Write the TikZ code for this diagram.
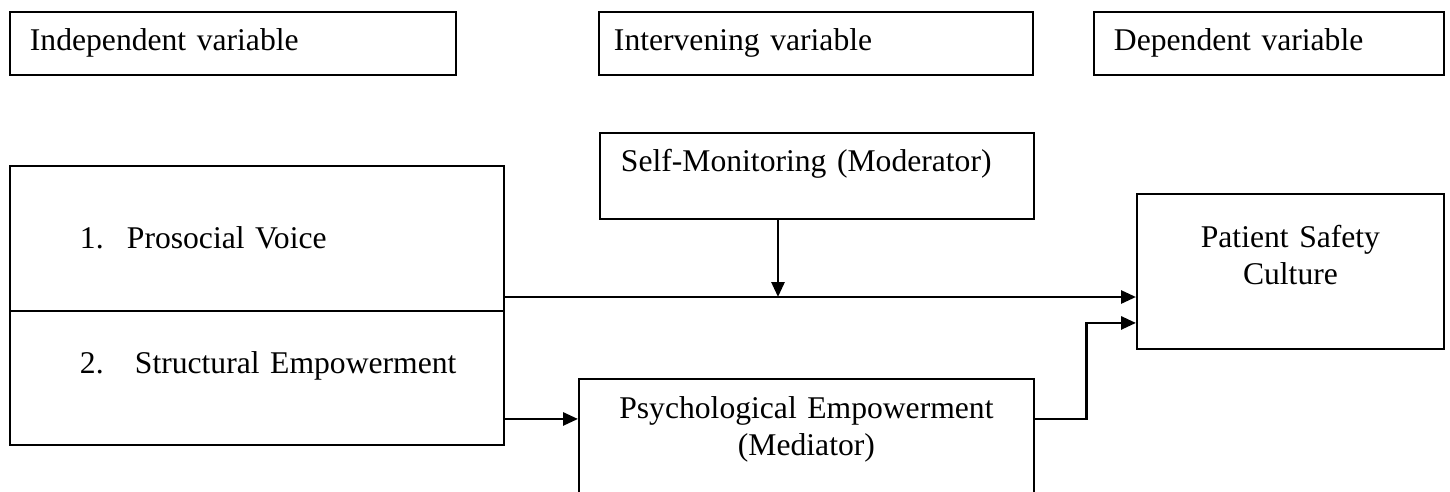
\documentclass[tikz,border=0pt]{standalone}
\usepackage{fontspec}
\setmainfont{Liberation Serif}
\usetikzlibrary{arrows.meta}
\tikzset{
  varbox/.style={draw,line width=1.1pt,anchor=north west,inner ysep=0pt,
                 font=\fontsize{18}{20.7}\selectfont},
  hdr/.style={varbox,align=left,text height=0.78cm,text depth=0.48cm},
  arr/.style={-{Triangle[length=0.3cm,width=0.26cm]},line width=1.6pt},
}

\begin{document}
\begin{tikzpicture}[x=0.02cm,y=-0.02cm]
  \useasboundingbox (0,0) rectangle (1450,491);
  % column headings
  \node[hdr,inner xsep=0.4cm,text width=8.12cm] (hIndep) at (9,11) {Independent variable};
  \node[hdr,inner xsep=0.3cm,text width=8.08cm] (hInterv) at (598,11) {Intervening variable};
  \node[hdr,inner xsep=0.4cm,text width=6.2cm] (hDep) at (1093,11) {Dependent variable};
  % independent variables
  \node[varbox,align=left,inner xsep=0.2cm,text width=9.48cm,text height=1.66cm,text depth=1.24cm]
    (prosocial) at (9,165) {\hspace*{1.2cm}\makebox[0.94cm][l]{1.}Prosocial Voice};
  \node[varbox,align=left,inner xsep=0.2cm,text width=9.48cm,text height=1.26cm,text depth=1.42cm]
    (structural) at (9,310) {\hspace*{1.2cm}\makebox[1.1cm][l]{2.}Structural Empowerment};
  % moderator, mediator, outcome
  \node[varbox,align=left,inner xsep=0.42cm,text width=7.84cm,text height=0.78cm,text depth=0.94cm]
    (moderator) at (599,132) {Self-Monitoring (Moderator)};
  \node[varbox,align=center,inner xsep=0.2cm,text width=8.7cm,text height=0.8cm,text depth=1.64cm]
    (psych) at (578,378) {Psychological Empowerment\\(Mediator)};
  \node[varbox,align=center,inner xsep=0.2cm,text width=5.74cm,text height=1.08cm,text depth=2.02cm]
    (safety) at (1136,193) {Patient Safety\\Culture};
  % paths
  \coordinate (modjoin) at (778,297);
  \draw[arr] (prosocial.east |- modjoin) -- (safety.west |- modjoin);
  \draw[arr] (moderator.south -| modjoin) -- (modjoin);
  \draw[arr] (structural.east |- psych.base west) -- (psych.base west);
  \draw[arr] (psych.base east) -- ++(52,0) |- ([yshift=-1.03cm]safety.west);
\end{tikzpicture}
\end{document}
